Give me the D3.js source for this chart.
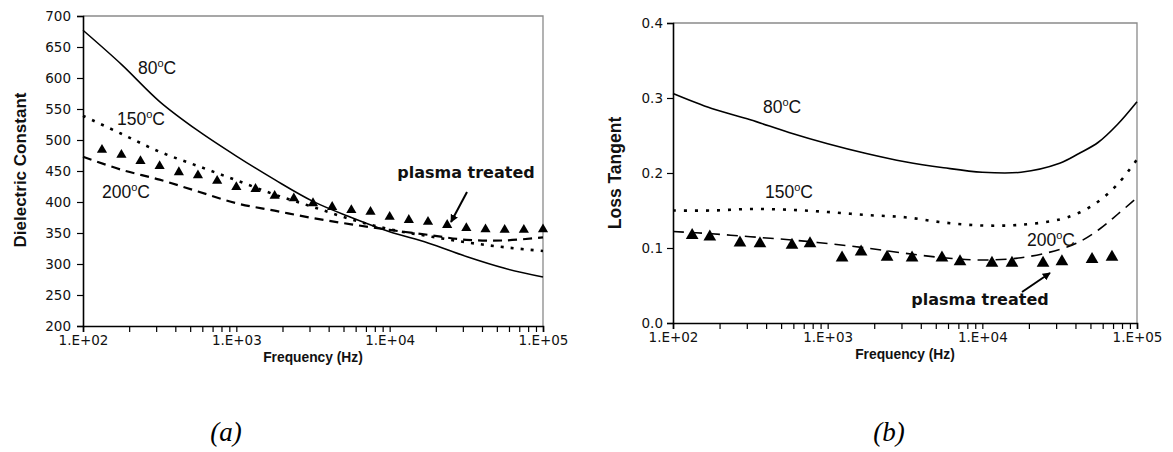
<!DOCTYPE html>
<html><head><meta charset="utf-8">
<script src="https://cdn.jsdelivr.net/npm/d3@7"></script>
<style>
body{margin:0;background:#fff;}
svg{display:block;font-family:"Liberation Sans",Arial,sans-serif;}
</style></head>
<body><svg id="c" width="1173" height="452"></svg>
<script>
// ---------- Data: panel (a) Dielectric constant ----------
const freqA = [100,178,316,562,1000,1778,3162,5623,10000,17783,31623,56234,100000];
const dielectric80 = [677,622,562,515,474,436,401,375,352,334,312,293,279];
const dielectric150 = [539,510,481,458,435,412,392,372,356,345,335,327,321];
const dielectric200 = [473,452,436,417,398,386,374,364,355,347,339,338,343];
const plasmaFreqA = [133,178,237,316,422,562,750,1000,1334,1778,2371,3162,4217,5623,7499,10000,13335,17783,23714,31623,42170,56234,74989,100000];
const plasmaDielectric = [484,476,466,458,448,443,434,424,421,410,406,398,392,387,384,376,371,368,363,358,356,355,355,356];
const yTicksA = [200,250,300,350,400,450,500,550,600,650,700];

// ---------- Data: panel (b) Loss tangent ----------
const freqB = [100,178,316,562,1000,1778,3162,5623,10000,17783,31623,42170,56234,74989,100000];
const lossTan80 = [0.306,0.286,0.271,0.254,0.239,0.226,0.215,0.207,0.201,0.201,0.213,0.226,0.241,0.265,0.295];
const lossTan150 = [0.150,0.150,0.152,0.151,0.148,0.144,0.141,0.134,0.130,0.131,0.138,0.147,0.162,0.185,0.218];
const lossTan200 = [0.122,0.119,0.115,0.111,0.106,0.100,0.093,0.087,0.084,0.087,0.098,0.108,0.124,0.145,0.167];
const plasmaFreqB = [133,173,271,365,588,769,1239,1645,2422,3512,5483,7174,11540,15550,24680,32700,51200,68900];
const plasmaLoss = [0.117,0.115,0.107,0.106,0.104,0.106,0.087,0.095,0.088,0.087,0.087,0.082,0.080,0.080,0.080,0.082,0.085,0.088];
const yTicksB = [0.0,0.1,0.2,0.3,0.4];

const xTickLabels = ["1.E+02","1.E+03","1.E+04","1.E+05"];
const xMajor = [100,1000,10000,100000];

const svg = d3.select("#c");
const sup = (sel, num) => {
  sel.append("tspan").text(num);
  sel.append("tspan").attr("dy",-7).attr("font-size","11px").text("o");
  sel.append("tspan").attr("dy",7).text("C");
};

function panel(o){
  const g = svg.append("g");
  const x = d3.scaleLog().domain([100,100000]).range([o.x0,o.x1]);
  const y = d3.scaleLinear().domain(o.yDomain).range([o.y1,o.y0]);
  g.append("path").attr("d",`M${o.x0},${o.y0}H${o.x1}V${o.y1}`).attr("fill","none").attr("stroke","#8a8a8a").attr("stroke-width",1.3);
  const xa = d3.axisBottom(x).tickValues(x.ticks()).tickSize(6).tickPadding(3).tickFormat(d=>{const i=xMajor.indexOf(d);return i>=0?xTickLabels[i]:"";});
  const gx = g.append("g").attr("transform",`translate(0,${o.y1})`).call(xa);
  gx.select(".domain").attr("stroke","#000").attr("stroke-width",1.6);
  gx.selectAll(".tick line").attr("stroke","#000").attr("stroke-width",1.2);
  gx.selectAll("text").attr("font-size","13.5px").attr("fill","#111").attr("font-family","DejaVu Sans, sans-serif");
  const ya = d3.axisLeft(y).tickValues(o.yTicks).tickSize(6).tickFormat(o.fmt);
  const gy = g.append("g").attr("transform",`translate(${o.x0},0)`).call(ya);
  gy.select(".domain").attr("stroke","#000").attr("stroke-width",1.6);
  gy.selectAll(".tick line").attr("stroke","#000").attr("stroke-width",1.2);
  gy.selectAll("text").attr("font-size","13.5px").attr("fill","#111").attr("x",o.ylx).attr("font-family","DejaVu Sans, sans-serif");
  g.append("text").attr("x",(o.x0+o.x1)/2).attr("y",o.y1+36).attr("text-anchor","middle").attr("font-weight","bold").attr("font-size","13.8px").attr("fill","#111").text("Frequency (Hz)");
  g.append("text").attr("transform",`translate(${o.ytx},${o.ytc}) rotate(-90)`).attr("text-anchor","middle").attr("font-weight","bold").attr("font-size",o.yts).attr("fill","#111").text(o.ytitle);
  const line = (fr,vals)=>d3.line().x((d,i)=>x(fr[i])).y(d=>y(d)).curve(d3.curveCatmullRom)(vals);
  o.series.forEach(s=>{
    g.append("path").attr("d",line(s.f,s.v)).attr("fill","none").attr("stroke","#000")
      .attr("stroke-width",s.w).attr("stroke-dasharray",s.dash||null);
  });
  const tri = d3.symbol().type(d3.symbolTriangle).size(o.triSize);
  g.selectAll("path.tri").data(o.pv).enter().append("path").attr("class","tri")
    .attr("transform",(d,i)=>`translate(${x(o.pf[i])},${y(d)})`).attr("d",tri).attr("fill","#000");
  return {g,x,y};
}

const A = panel({x0:83,x1:543,y0:16,y1:326,yDomain:[200,700],yTicks:yTicksA,fmt:d3.format("d"),ytx:26,ytc:170,yts:"17px",ylx:-12,ytitle:"Dielectric Constant",
  series:[{f:freqA,v:dielectric80,w:1.5},{f:freqA,v:dielectric150,w:2.6,dash:"3,7"},{f:freqA,v:dielectric200,w:2.2,dash:"9,6"}],
  pf:plasmaFreqA,pv:plasmaDielectric,triSize:45});
const B = panel({x0:673,x1:1137,y0:23,y1:323,yDomain:[0,0.4],yTicks:yTicksB,fmt:d3.format(".1f"),ytx:621,ytc:173,yts:"17.5px",ylx:-10,ytitle:"Loss Tangent",
  series:[{f:freqB,v:lossTan80,w:1.6},{f:freqB,v:lossTan150,w:2.6,dash:"3,8"},{f:freqB,v:lossTan200,w:1.6,dash:"11,7"}],
  pf:plasmaFreqB,pv:plasmaLoss,triSize:70});

const lab = (g,x,y,n)=>{const t=g.append("text").attr("x",x).attr("y",y).attr("font-size","17.5px").attr("fill","#111");sup(t,n);};
lab(A.g,138,74,"80"); lab(A.g,117,125,"150"); lab(A.g,102,198,"200");
lab(B.g,763,113,"80"); lab(B.g,765,198,"150"); lab(B.g,1027,246,"200");
const defs = svg.append("defs");
defs.append("marker").attr("id","ah").attr("viewBox","0 0 10 10").attr("refX",9).attr("refY",5).attr("markerWidth",4).attr("markerHeight",4).attr("orient","auto")
  .append("path").attr("d","M0,0L10,5L0,10z").attr("fill","#000");
A.g.append("text").attr("x",466).attr("y",178).attr("text-anchor","middle").attr("font-weight","bold").attr("font-size","16px").attr("font-family","DejaVu Sans, sans-serif").attr("fill","#111").text("plasma treated");
A.g.append("line").attr("x1",467).attr("y1",192).attr("x2",451).attr("y2",222).attr("stroke","#000").attr("stroke-width",2).attr("marker-end","url(#ah)");
B.g.append("text").attr("x",980).attr("y",305).attr("text-anchor","middle").attr("font-weight","bold").attr("font-size","16px").attr("font-family","DejaVu Sans, sans-serif").attr("fill","#111").text("plasma treated");
B.g.append("line").attr("x1",1022).attr("y1",292).attr("x2",1050).attr("y2",273).attr("stroke","#000").attr("stroke-width",2).attr("marker-end","url(#ah)");

svg.append("text").attr("x",226).attr("y",441).attr("text-anchor","middle").attr("font-family","Liberation Serif, Times New Roman, serif").attr("font-style","italic").attr("font-size","27px").text("(a)");
svg.append("text").attr("x",889).attr("y",441).attr("text-anchor","middle").attr("font-family","Liberation Serif, Times New Roman, serif").attr("font-style","italic").attr("font-size","27px").text("(b)");
</script></body></html>
